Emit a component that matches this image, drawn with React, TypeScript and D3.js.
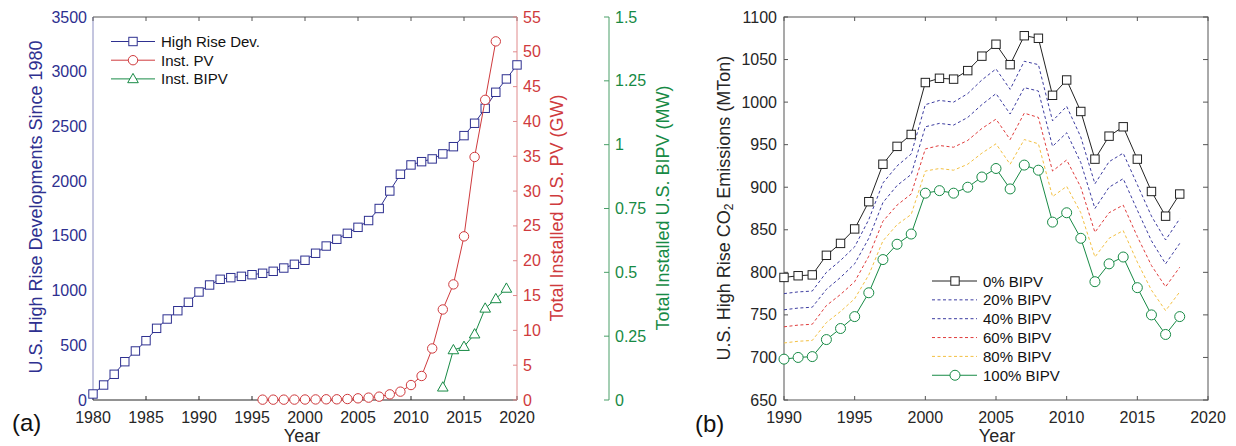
import React from "react";
import * as d3 from "d3";

// ---------- Panel (a) data ----------
const hrYears = d3.range(1980, 2021);
const highRise = [55, 137, 235, 350, 448, 542, 655, 740, 816, 893, 987, 1051, 1103, 1118, 1130, 1145, 1158, 1176, 1206, 1240, 1277, 1341, 1407, 1469, 1523, 1578, 1640, 1750, 1910, 2063, 2148, 2178, 2203, 2249, 2315, 2416, 2529, 2666, 2812, 2934, 3062];
const pvYears = d3.range(1996, 2019);
const instPV = [0.05, 0.05, 0.05, 0.06, 0.07, 0.08, 0.1, 0.1, 0.14, 0.24, 0.34, 0.48, 0.81, 1.2, 2.15, 3.45, 7.4, 13.0, 16.6, 23.5, 34.9, 43.1, 51.5];
const bipvYears = d3.range(2013, 2020);
const instBIPV = [0.05, 0.196, 0.209, 0.258, 0.359, 0.396, 0.437];

const leftTicksY = d3.range(0, 3501, 500);
const pvTicks = d3.range(0, 56, 5);
const bipvTicks = [0, 0.25, 0.5, 0.75, 1, 1.25, 1.5];
const bipvTickLabels = ["0", "0.25", "0.5", "0.75", "1", "1.25", "1.5"];
const xTicksA = d3.range(1980, 2021, 5);

// ---------- Panel (b) data ----------
const emYears = d3.range(1990, 2019);
const bipv0 = [794, 796, 797, 820, 834, 851, 883, 927, 948, 962, 1023, 1028, 1027, 1037, 1054, 1068, 1044, 1078, 1075, 1008, 1026, 989, 933, 960, 971, 933, 895, 866, 892];
const bipv20 = [775, 777, 778, 800, 814, 830, 862, 905, 925, 939, 997, 1002, 1000, 1010, 1026, 1039, 1015, 1048, 1044, 978, 995, 959, 904, 930, 940, 903, 866, 838, 863];
const bipv40 = [756, 758, 759, 780, 794, 810, 840, 882, 902, 915, 971, 975, 973, 982, 997, 1010, 986, 1017, 1013, 948, 964, 929, 875, 900, 910, 873, 837, 810, 834];
const bipv60 = [736, 738, 739, 761, 774, 789, 819, 860, 879, 892, 945, 949, 947, 955, 969, 980, 956, 987, 982, 919, 932, 900, 847, 870, 879, 842, 808, 783, 806];
const bipv80 = [717, 719, 720, 741, 754, 769, 797, 837, 856, 868, 919, 922, 920, 927, 940, 951, 927, 956, 951, 889, 901, 870, 818, 840, 849, 812, 779, 755, 777];
const bipv100 = [698, 700, 701, 721, 734, 748, 776, 815, 833, 845, 893, 896, 893, 900, 912, 922, 898, 926, 920, 859, 870, 840, 789, 810, 818, 782, 750, 727, 748];
const emTicksY = d3.range(650, 1101, 50);
const xTicksB = d3.range(1990, 2021, 5);
const bLegend = ["0% BIPV", "20% BIPV", "40% BIPV", "60% BIPV", "80% BIPV", "100% BIPV"];

// ---------- styles ----------
const FONT = "'Liberation Sans', Arial, sans-serif";
const navy = "#2e3090";
const navyAxis = "#8a8cc0";
const red = "#cf3a3d";
const redAxis = "#e08a8c";
const green = "#178a45";
const greenAxis = "#4a9f68";
const dark = "#262626";
const boxCol = "#555555";

function Square({ x, y, c }: { x: number; y: number; c: string }) {
  return <rect x={x - 4.2} y={y - 4.2} width={8.4} height={8.4} fill="white" stroke={c} strokeWidth={1} />;
}
function Circle({ x, y, c, r = 4.7 }: { x: number; y: number; c: string; r?: number }) {
  return <circle cx={x} cy={y} r={r} fill="white" stroke={c} strokeWidth={1} />;
}
function Tri({ x, y, c }: { x: number; y: number; c: string }) {
  return <path d={`M${x},${y - 5.5}L${x + 5.3},${y + 3.8}L${x - 5.3},${y + 3.8}Z`} fill="white" stroke={c} strokeWidth={1} />;
}

export default function App() {
  // Panel (a) scales
  const xA = d3.scaleLinear().domain([1980, 2020]).range([93, 517]);
  const yHR = d3.scaleLinear().domain([0, 3500]).range([400, 17]);
  const yPV = d3.scaleLinear().domain([0, 55]).range([400, 17]);
  const yBI = d3.scaleLinear().domain([0, 1.5]).range([400, 17]);
  const redX = 517;
  const greenX = 609;

  const lineHR = d3.line<number>().x((_, i) => xA(hrYears[i])).y((d) => yHR(d));
  const linePV = d3.line<number>().x((_, i) => xA(pvYears[i])).y((d) => yPV(d));
  const lineBI = d3.line<number>().x((_, i) => xA(bipvYears[i])).y((d) => yBI(d));

  // Panel (b) scales
  const xB = d3.scaleLinear().domain([1990, 2020]).range([784, 1208]);
  const yB = d3.scaleLinear().domain([650, 1100]).range([400, 17]);
  const lineB = d3.line<number>().x((_, i) => xB(emYears[i])).y((d) => yB(d));

  const dashed = [
    { data: bipv20, c: "#3c3ca0" },
    { data: bipv40, c: "#3c3ca0" },
    { data: bipv60, c: "#e03c3c" },
    { data: bipv80, c: "#f3c042" },
  ];
  const legendCols = ["#222222", "#3c3ca0", "#3c3ca0", "#e03c3c", "#f3c042", green];

  return (
    <svg width={1236} height={446} style={{ position: "absolute", left: 0, top: 0, fontFamily: FONT }}>
      <rect width={1236} height={446} fill="white" />

      {/* ================= Panel (a) ================= */}
      <line x1={93} x2={redX} y1={17} y2={17} stroke={boxCol} strokeWidth={1} />
      <line x1={93} x2={redX} y1={400} y2={400} stroke={dark} strokeWidth={1} />
      <line x1={93} x2={93} y1={17} y2={400} stroke={navyAxis} strokeWidth={1} />
      {xTicksA.map((t) => (
        <g key={"xa" + t}>
          <line x1={xA(t)} x2={xA(t)} y1={400} y2={396} stroke={dark} />
          <line x1={xA(t)} x2={xA(t)} y1={17} y2={21} stroke={boxCol} />
          <text x={xA(t)} y={417} textAnchor="middle" dominantBaseline="central" fontSize={16} fill={dark}>
            {t}
          </text>
        </g>
      ))}
      {leftTicksY.map((t) => (
        <text key={"yl" + t} x={87} y={yHR(t)} textAnchor="end" dominantBaseline="central" fontSize={16} fill={navy}>
          {t}
        </text>
      ))}
      <text transform={`translate(36,207) rotate(-90)`} textAnchor="middle" dominantBaseline="central" fontSize={18} fill={navy}>
        U.S. High Rise Developments Since 1980
      </text>

      {/* red axis */}
      <line x1={redX} x2={redX} y1={17} y2={400} stroke={redAxis} />
      {pvTicks.map((t) => (
        <g key={"pv" + t}>
          <line x1={redX - 4} x2={redX} y1={yPV(t)} y2={yPV(t)} stroke={redAxis} />
          <text x={523} y={yPV(t)} dominantBaseline="central" fontSize={16} fill={red}>
            {t}
          </text>
        </g>
      ))}
      <text transform={`translate(557,208) rotate(-90)`} textAnchor="middle" dominantBaseline="central" fontSize={18} fill={red}>
        Total Installed U.S. PV (GW)
      </text>

      {/* green axis */}
      <line x1={greenX} x2={greenX} y1={17} y2={400} stroke={greenAxis} />
      {bipvTicks.map((t, i) => (
        <g key={"bi" + t}>
          <line x1={greenX - 5} x2={greenX} y1={yBI(t)} y2={yBI(t)} stroke={greenAxis} />
          <text x={615} y={yBI(t)} dominantBaseline="central" fontSize={16} fill={green}>
            {bipvTickLabels[i]}
          </text>
        </g>
      ))}
      <text transform={`translate(663,208) rotate(-90)`} textAnchor="middle" dominantBaseline="central" fontSize={18} fill={green}>
        Total Installed U.S. BIPV (MW)
      </text>

      {/* series */}
      <path d={lineHR(highRise) || ""} fill="none" stroke={navy} strokeWidth={1} />
      {highRise.map((v, i) => (
        <Square key={"hr" + i} x={xA(hrYears[i])} y={yHR(v)} c={navy} />
      ))}
      <path d={linePV(instPV) || ""} fill="none" stroke={red} strokeWidth={1} />
      {instPV.map((v, i) => (
        <Circle key={"pvp" + i} x={xA(pvYears[i])} y={yPV(v)} c={red} />
      ))}
      <path d={lineBI(instBIPV) || ""} fill="none" stroke={green} strokeWidth={1} />
      {instBIPV.map((v, i) => (
        <Tri key={"bip" + i} x={xA(bipvYears[i])} y={yBI(v)} c={green} />
      ))}

      {/* legend (a) */}
      {[
        { label: "High Rise Dev.", c: navy, m: "s" },
        { label: "Inst. PV", c: red, m: "c" },
        { label: "Inst. BIPV", c: green, m: "t" },
      ].map((l, i) => {
        const y = 41.5 + i * 18.7;
        return (
          <g key={"la" + i}>
            <line x1={111} x2={155} y1={y} y2={y} stroke={l.c} />
            {l.m === "s" && <Square x={133} y={y} c={l.c} />}
            {l.m === "c" && <Circle x={133} y={y} c={l.c} />}
            {l.m === "t" && <Tri x={133} y={y} c={l.c} />}
            <text x={161} y={y} dominantBaseline="central" fontSize={15} fill="#111">
              {l.label}
            </text>
          </g>
        );
      })}

      <text x={12} y={422} dominantBaseline="central" fontSize={24} fill="#111">(a)</text>
      <text x={302} y={436} textAnchor="middle" dominantBaseline="central" fontSize={18} fill={dark}>Year</text>

      {/* ================= Panel (b) ================= */}
      <rect x={784} y={17} width={424} height={383} fill="none" stroke={boxCol} strokeWidth={1} />
      {xTicksB.map((t) => (
        <g key={"xb" + t}>
          <line x1={xB(t)} x2={xB(t)} y1={400} y2={396} stroke={boxCol} />
          <line x1={xB(t)} x2={xB(t)} y1={17} y2={21} stroke={boxCol} />
          <text x={xB(t)} y={417} textAnchor="middle" dominantBaseline="central" fontSize={16} fill={dark}>
            {t}
          </text>
        </g>
      ))}
      {emTicksY.map((t) => (
        <g key={"yb" + t}>
          <line x1={784} x2={788} y1={yB(t)} y2={yB(t)} stroke={boxCol} />
          <line x1={1208} x2={1203} y1={yB(t)} y2={yB(t)} stroke={boxCol} />
          <text x={777} y={yB(t)} textAnchor="end" dominantBaseline="central" fontSize={16} fill={dark}>
            {t}
          </text>
        </g>
      ))}
      <text transform={`translate(724,208) rotate(-90)`} textAnchor="middle" dominantBaseline="central" fontSize={18} fill={dark}>
        U.S. High Rise CO<tspan fontSize={12} dy={5}>2</tspan>
        <tspan dy={-5}> Emissions (MTon)</tspan>
      </text>

      {dashed.map((s, k) => (
        <path key={"ds" + k} d={lineB(s.data) || ""} fill="none" stroke={s.c} strokeWidth={1} strokeDasharray="3,2.5" />
      ))}
      <path d={lineB(bipv0) || ""} fill="none" stroke="#222" strokeWidth={1} />
      {bipv0.map((v, i) => (
        <Square key={"b0" + i} x={xB(emYears[i])} y={yB(v)} c="#222" />
      ))}
      <path d={lineB(bipv100) || ""} fill="none" stroke={green} strokeWidth={1} />
      {bipv100.map((v, i) => (
        <Circle key={"b100" + i} x={xB(emYears[i])} y={yB(v)} c={green} r={5} />
      ))}

      {/* legend (b) */}
      {bLegend.map((lab, i) => {
        const y = 281 + i * 18.85;
        const dashedRow = i > 0 && i < 5;
        return (
          <g key={"lb" + i}>
            <line x1={932} x2={977} y1={y} y2={y} stroke={legendCols[i]} strokeDasharray={dashedRow ? "3,2.5" : undefined} />
            {i === 0 && <Square x={955} y={y} c={legendCols[i]} />}
            {i === 5 && <Circle x={955} y={y} c={legendCols[i]} r={5} />}
            <text x={983} y={y} dominantBaseline="central" fontSize={15} fill="#111">
              {lab}
            </text>
          </g>
        );
      })}

      <text x={695} y={423} dominantBaseline="central" fontSize={24} fill="#111">(b)</text>
      <text x={997} y={436} textAnchor="middle" dominantBaseline="central" fontSize={18} fill={dark}>Year</text>
    </svg>
  );
}
